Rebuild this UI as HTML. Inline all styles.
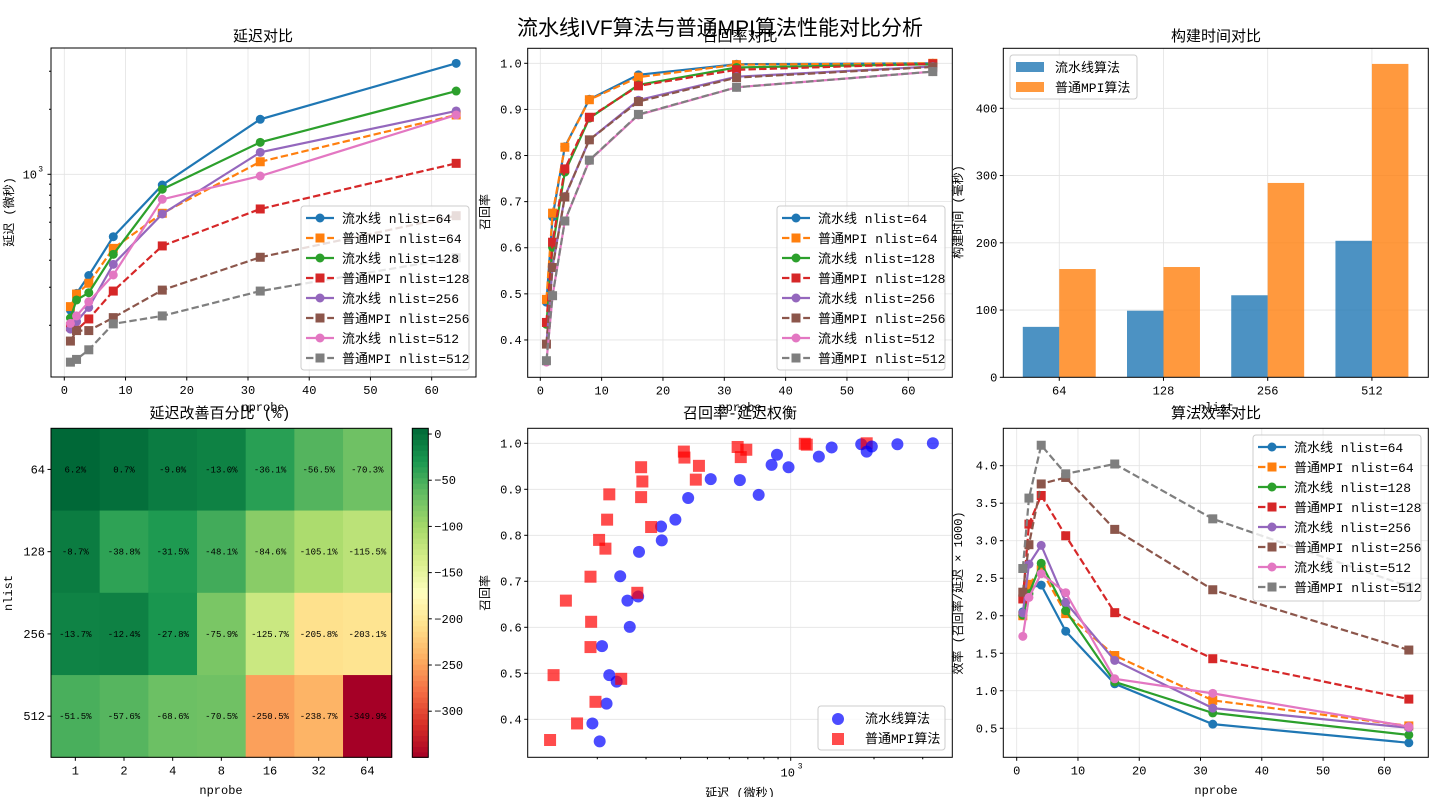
<!DOCTYPE html>
<html><head><meta charset="utf-8">
<style>
html,body{margin:0;padding:0;background:#fff;}
svg{display:block;font-family:"Liberation Mono","Noto Sans CJK SC",monospace;}
</style></head>
<body>
<svg id="fig" width="1440" height="797" viewBox="0 0 1440 797" xmlns="http://www.w3.org/2000/svg">
<rect width="1440" height="797" fill="#fff"/>
</svg>
<script>
const nprobes=[1,2,4,8,16,32,64];
const nlists=[64,128,256,512];
const latPipe64=[235,281,340,514,892,1798,3264];
const latMpi64=[244,279,313,454,660,1143,1882];
const latPipe128=[216,262,283,426,853,1406,2430];
const latMpi128=[197,190,214,288,466,691,1124];
const latPipe256=[192,208,242,383,655,1264,1964];
const latMpi256=[169,189,189,217,291,413,643];
const latPipe512=[204,221,257,342,766,982,1882];
const latMpi512=[135,139,154,203,221,288,411];
const recPipe64=[0.482,0.667,0.819,0.922,0.975,0.998,1.0];
const recMpi64=[0.488,0.675,0.818,0.921,0.970,0.997,1.0];
const recPipe128=[0.434,0.601,0.764,0.881,0.953,0.991,0.998];
const recMpi128=[0.438,0.612,0.771,0.883,0.951,0.986,0.999];
const recPipe256=[0.391,0.559,0.711,0.834,0.920,0.971,0.993];
const recMpi256=[0.391,0.557,0.710,0.834,0.917,0.969,0.992];
const recPipe512=[0.352,0.496,0.658,0.789,0.888,0.948,0.982];
const recMpi512=[0.355,0.496,0.658,0.790,0.889,0.948,0.982];
const buildPipe=[75,99,122,203];
const buildMpi=[161,164,289,466];
const improve64=[6.2,0.7,-9.0,-13.0,-36.1,-56.5,-70.3];
const improve128=[-8.7,-38.8,-31.5,-48.1,-84.6,-105.1,-115.5];
const improve256=[-13.7,-12.4,-27.8,-75.9,-125.7,-205.8,-203.1];
const improve512=[-51.5,-57.6,-68.6,-70.5,-250.5,-238.7,-349.9];
const cbTicks=[0,-50,-100,-150,-200,-250,-300];

const NS="http://www.w3.org/2000/svg";
const svg=document.getElementById('fig');
function mk(tag,attrs,parent){const e=document.createElementNS(NS,tag);for(const k in attrs)e.setAttribute(k,attrs[k]);(parent||svg).appendChild(e);return e;}
function txt(s,x,y,size,anchor,parent,extra){const t=mk('text',Object.assign({x:x,y:y,'font-size':size,'text-anchor':anchor||'middle',fill:'#000'},extra||{}),parent);t.textContent=s;return t;}

const series=[
 {name:'流水线 nlist=64',lat:latPipe64,rec:recPipe64,c:'#1f77b4',dash:false},
 {name:'普通MPI nlist=64',lat:latMpi64,rec:recMpi64,c:'#ff7f0e',dash:true},
 {name:'流水线 nlist=128',lat:latPipe128,rec:recPipe128,c:'#2ca02c',dash:false},
 {name:'普通MPI nlist=128',lat:latMpi128,rec:recMpi128,c:'#d62728',dash:true},
 {name:'流水线 nlist=256',lat:latPipe256,rec:recPipe256,c:'#9467bd',dash:false},
 {name:'普通MPI nlist=256',lat:latMpi256,rec:recMpi256,c:'#8c564b',dash:true},
 {name:'流水线 nlist=512',lat:latPipe512,rec:recPipe512,c:'#e377c2',dash:false},
 {name:'普通MPI nlist=512',lat:latMpi512,rec:recMpi512,c:'#7f7f7f',dash:true}
];

function lin(d0,d1,r0,r1){return v=>r0+(v-d0)/(d1-d0)*(r1-r0);}
function logs(d0,d1,r0,r1){return v=>r0+(Math.log10(v)-d0)/(d1-d0)*(r1-r0);}

function frame(L,T,R,B,name){const r=mk('rect',{x:L,y:T,width:R-L,height:B-T,fill:'none',stroke:'#000','stroke-width':1});}
function gridV(x,T,B,g){mk('line',{x1:x,x2:x,y1:T,y2:B,stroke:'#e3e3e3','stroke-width':0.8},g);}
function gridH(y,L,R,g){mk('line',{x1:L,x2:R,y1:y,y2:y,stroke:'#e3e3e3','stroke-width':0.8},g);}
function xTick(x,B,label,g){mk('line',{x1:x,x2:x,y1:B,y2:B+3.5,stroke:'#000'},g);if(label!==null)txt(label,x,B+17,12,'middle',g);}
function yTick(y,L,label,g,len){mk('line',{x1:L-(len||3.5),x2:L,y1:y,y2:y,stroke:'#000'},g);if(label!==null)txt(label,L-6,y+4,12,'end',g);}
function marker(s,x,y,g,size){const m=size||9;let e;if(s.dash){e=mk('rect',{x:x-m/2,y:y-m/2,width:m,height:m,fill:s.c},g);}else{e=mk('circle',{cx:x,cy:y,r:m/2,fill:s.c},g);}return e;}
function lineSeries(s,xs,ys,sx,sy,g,clip){const grp=mk('g',clip?{'clip-path':clip}:{},g);
 const pts=xs.map((v,i)=>sx(v)+','+sy(ys[i])).join(' ');
 mk('polyline',{points:pts,fill:'none',stroke:s.c,'stroke-width':2.2,'stroke-dasharray':s.dash?'7.4,3.2':'none'},grp);
 xs.forEach((v,i)=>{const m=marker(s,sx(v),sy(ys[i]),grp);});}
function legend(x,y,w,h,items,g,name){const lg=mk('g',{},g);
 mk('rect',{x:x,y:y,width:w,height:h,rx:3,fill:'#fff','fill-opacity':0.8,stroke:'#cccccc'},lg);
 items.forEach((s,i)=>{const cy=y+12+i*20;const ent=mk('g',{},lg);
  mk('line',{x1:x+5,x2:x+33,y1:cy,y2:cy,stroke:s.c,'stroke-width':2.2,'stroke-dasharray':s.dash?'7.4,3.2':'none'},ent);
  marker(s,x+19,cy,ent);txt(s.name,x+41,cy+5,13,'start',ent);});}
function clipRect(id,L,T,R,B){const cp=mk('clipPath',{id:id});mk('rect',{x:L,y:T,width:R-L,height:B-T},cp);return 'url(#'+id+')';}

const mt=txt('流水线IVF算法与普通MPI算法性能对比分析',720,35,21,'middle',null,{'font-family':'"Liberation Sans","Noto Sans CJK SC",sans-serif'});


(function(){const L=51,T=48,R=476,B=377;const g=mk('g',{});
 const sx=lin((51-64.3)/6.123,(476-64.3)/6.123,L,R);const sy=logs(2.0616,3.5847,B,T);
 for(let v=0;v<=60;v+=10)gridV(sx(v),T,B,g);gridH(sy(1000),L,R,g);
 const clip=clipRect('c1',L,T,R,B);
 series.forEach(s=>lineSeries(s,nprobes,s.lat,sx,sy,g,clip));
 frame(L,T,R,B,'latency');
 for(let v=0;v<=60;v+=10)xTick(sx(v),B,String(v),g);
 [200,300,400,500,600,700,800,900,2000,3000].forEach(v=>yTick(sy(v),L,null,g,2));
 yTick(sy(1000),L,null,g);txt('10',L-14,sy(1000)+4,12,'end',g);txt('3',L-8,sy(1000)-3,8,'end',g);
 const tt=txt('延迟对比',263,41,15,'middle',g);
 const yl=txt('延迟 (微秒)',0,0,12,'middle',g,{transform:'translate(13,212) rotate(-90)'});
 const xl=txt('nprobe',263,411,12,'middle',g);
 legend(301,206,168,164,series,g,'latency-legend');})();

(function(){const L=527.7,T=48.3,R=952.3,B=377.3;const g=mk('g',{});
 const sx=lin((L-540.3)/6.133,(R-540.3)/6.133,L,R);const sy=lin(1-(B-63.3)/461.1,1+15/461.1,B,T);
 for(let v=0;v<=60;v+=10)gridV(sx(v),T,B,g);for(let k=4;k<=10;k++)gridH(sy(k/10),L,R,g);
 const clip=clipRect('c2',L,T,R,B);
 series.forEach(s=>lineSeries(s,nprobes,s.rec,sx,sy,g,clip));
 frame(L,T,R,B,'recall');
 for(let v=0;v<=60;v+=10)xTick(sx(v),B,String(v),g);
 for(let k=4;k<=10;k++)yTick(sy(k/10),L,(k/10).toFixed(1),g);
 const tt=txt('召回率对比',740,41,15,'middle',g);
 const yl=txt('召回率',0,0,12,'middle',g,{transform:'translate(489,212) rotate(-90)'});
 const xl=txt('nprobe',740,411,12,'middle',g);
 legend(777,206,168,164,series,g,'recall-legend');})();

(function(){const L=1003.3,T=48.3,R=1428.3,B=377.3;const g=mk('g',{});
 const sx=lin(-0.537,3.541,L,R);const sy=lin(0,329/0.6725,B,T);
 nlists.forEach((n,i)=>gridV(sx(i),T,B,g));for(let v=100;v<=400;v+=100)gridH(sy(v),L,R,g);
 const w=0.35;
 nlists.forEach((n,i)=>{const b1=mk('rect',{x:sx(i-w),y:sy(buildPipe[i]),width:sx(i)-sx(i-w),height:B-sy(buildPipe[i]),fill:'#1f77b4','fill-opacity':0.8},g);
  
  const b2=mk('rect',{x:sx(i),y:sy(buildMpi[i]),width:sx(i+w)-sx(i),height:B-sy(buildMpi[i]),fill:'#ff7f0e','fill-opacity':0.8},g);
  });
 frame(L,T,R,B,'build-time');
 nlists.forEach((n,i)=>xTick(sx(i),B,String(n),g));
 for(let v=0;v<=400;v+=100)yTick(sy(v),L,String(v),g);
 const tt=txt('构建时间对比',1216,41,15,'middle',g);
 const yl=txt('构建时间 (毫秒)',0,0,12,'middle',g,{transform:'translate(962,212) rotate(-90)'});
 const xl=txt('nlist',1216,411,12,'middle',g);
 const lg=mk('g',{},g);
 mk('rect',{x:1010,y:55,width:127,height:44,rx:3,fill:'#fff','fill-opacity':0.8,stroke:'#cccccc'},lg);
 mk('rect',{x:1016,y:62,width:28,height:10,fill:'#1f77b4','fill-opacity':0.8},lg);txt('流水线算法',1055,72,13,'start',lg);
 mk('rect',{x:1016,y:82,width:28,height:10,fill:'#ff7f0e','fill-opacity':0.8},lg);txt('普通MPI算法',1055,92,13,'start',lg);})();

const cmapStops=['#a50026','#d73027','#f46d43','#fdae61','#fee08b','#ffffbf','#d9ef8b','#a6d96a','#66bd63','#1a9850','#006837'];
function hex(c){return [1,3,5].map(i=>parseInt(c.substr(i,2),16));}
function cmap(t){t=Math.max(0,Math.min(1,t));const p=t*10;const i=Math.min(9,Math.floor(p));const f=p-i;const a=hex(cmapStops[i]),b=hex(cmapStops[i+1]);return 'rgb('+a.map((v,k)=>Math.round(v+(b[k]-v)*f)).join(',')+')';}
(function(){const L=51,T=428.3,R=391.7,B=757.3;const g=mk('g',{});
 const rows=[improve64,improve128,improve256,improve512];
 const all=rows.flat();const vmin=Math.min(...all),vmax=Math.max(...all);
 const cw=(R-L)/nprobes.length,ch=(B-T)/nlists.length;
 rows.forEach((row,r)=>row.forEach((v,c)=>{const cell=mk('rect',{x:L+c*cw,y:T+r*ch,width:cw+0.5,height:ch+0.5,fill:cmap((v-vmin)/(vmax-vmin))},g);
  
  txt(v.toFixed(1)+'%',L+c*cw+cw/2,T+r*ch+ch/2+3,9,'middle',g);}));
 frame(L,T,R,B,'heatmap');
 nprobes.forEach((n,c)=>xTick(L+c*cw+cw/2,B,String(n),g));
 nlists.forEach((n,r)=>yTick(T+r*ch+ch/2,L,String(n),g));
 const tt=txt('延迟改善百分比 (%)',220,418,15,'middle',g);
 const yl=txt('nlist',0,0,12,'middle',g,{transform:'translate(12,593) rotate(-90)'});
 const xl=txt('nprobe',221,794,12,'middle',g);
 const cb=mk('g',{});
 const cL=412.3,cR=428.3,n=60;const sy=lin(vmin,vmax,B,T);
 for(let i=0;i<n;i++){const v0=vmin+(vmax-vmin)*i/n,v1=vmin+(vmax-vmin)*(i+1)/n;mk('rect',{x:cL,y:sy(v1),width:cR-cL,height:sy(v0)-sy(v1)+0.6,fill:cmap(((v0+v1)/2-vmin)/(vmax-vmin))},cb);}
 mk('rect',{x:cL,y:T,width:cR-cL,height:B-T,fill:'none',stroke:'#000'},cb);
 cbTicks.forEach(v=>{const y=sy(v);mk('line',{x1:cR,x2:cR+3.5,y1:y,y2:y,stroke:'#000'},cb);txt(String(v).replace('-','−'),cR+6,y+4,12,'start',cb);});})();

(function(){const L=527.7,T=428.3,R=952.3,B=757.3;const g=mk('g',{});
 const sx=logs(2.0495,3.584,L,R);const sy=lin(1-(B-443.3)/460,1+15/460,B,T);
 gridV(sx(1000),T,B,g);for(let k=4;k<=10;k++)gridH(sy(k/10),L,R,g);
 const clip=clipRect('c5',L,T,R,B);const pg=mk('g',{'clip-path':clip},g);
 series.forEach(s=>{s.lat.forEach((lv,i)=>{const x=sx(lv),y=sy(s.rec[i]);let e;
  if(s.dash){e=mk('rect',{x:x-6,y:y-6,width:12,height:12,fill:'#ff0000','fill-opacity':0.7},pg);}else{e=mk('circle',{cx:x,cy:y,r:6,fill:'#0000ff','fill-opacity':0.7},pg);}
  });});
 frame(L,T,R,B,'scatter');
 [200,300,400,500,600,700,800,900,2000,3000].forEach(v=>{const x=sx(v);mk('line',{x1:x,x2:x,y1:B,y2:B+2,stroke:'#000'},g);});
 const x0=sx(1000);mk('line',{x1:x0,x2:x0,y1:B,y2:B+3.5,stroke:'#000'},g);txt('10',x0-3,B+19,12,'middle',g);txt('3',x0+7,B+11,8,'start',g);
 for(let k=4;k<=10;k++)yTick(sy(k/10),L,(k/10).toFixed(1),g);
 const tt=txt('召回率-延迟权衡',740,418,15,'middle',g);
 const yl=txt('召回率',0,0,12,'middle',g,{transform:'translate(489,593) rotate(-90)'});
 const xl=txt('延迟 (微秒)',740,797,12,'middle',g);
 const lg=mk('g',{},g);
 mk('rect',{x:818,y:706,width:127,height:44,rx:3,fill:'#fff','fill-opacity':0.8,stroke:'#cccccc'},lg);
 mk('circle',{cx:838,cy:719,r:6,fill:'#0000ff','fill-opacity':0.7},lg);txt('流水线算法',865,723,13,'start',lg);
 mk('rect',{x:832,y:733,width:12,height:12,fill:'#ff0000','fill-opacity':0.7},lg);txt('普通MPI算法',865,743,13,'start',lg);})();

(function(){const L=1003.3,T=428.3,R=1428.3,B=757.3;const g=mk('g',{});
 const sx=lin((L-1016.7)/6.127,(R-1016.7)/6.127,L,R);const sy=lin(4-(B-465.7)/75.02,4+(465.7-T)/75.02,B,T);
 for(let v=0;v<=60;v+=10)gridV(sx(v),T,B,g);for(let k=1;k<=8;k++)gridH(sy(k/2),L,R,g);
 const clip=clipRect('c6',L,T,R,B);
 series.forEach(s=>{const eff=s.rec.map((r,i)=>r/s.lat[i]*1000);lineSeries(s,nprobes,eff,sx,sy,g,clip);});
 frame(L,T,R,B,'efficiency');
 for(let v=0;v<=60;v+=10)xTick(sx(v),B,String(v),g);
 for(let k=1;k<=8;k++)yTick(sy(k/2),L,(k/2).toFixed(1),g);
 const tt=txt('算法效率对比',1216,418,15,'middle',g);
 const yl=txt('效率 (召回率/延迟 × 1000)',0,0,12,'middle',g,{transform:'translate(962,593) rotate(-90)'});
 const xl=txt('nprobe',1216,794,12,'middle',g);
 legend(1253,435,168,166,series,g,'efficiency-legend');})();
</script>
</body></html>
